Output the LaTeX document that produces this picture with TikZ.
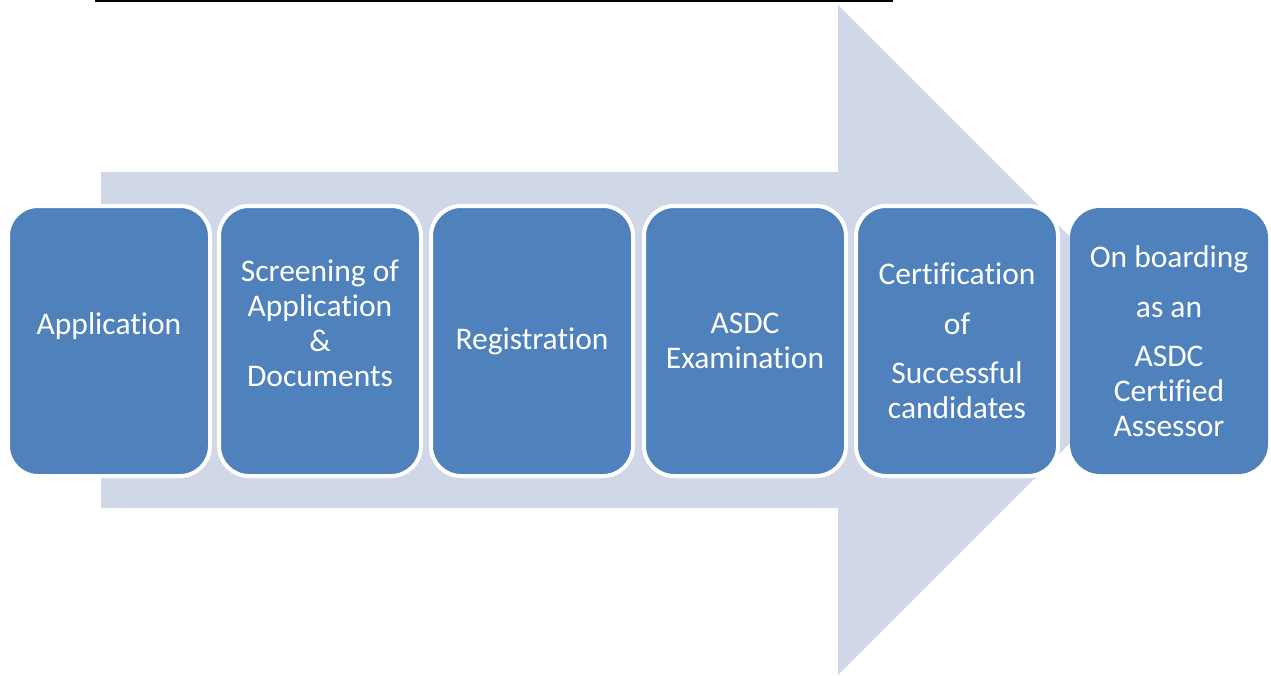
\documentclass[tikz,border=0pt]{standalone}
\usepackage{fontspec}
\setmainfont[Ligatures=NoCommon]{Carlito}
\definecolor{boxblue}{HTML}{4F81BD}
\definecolor{arrowgrey}{HTML}{D0D8E8}
\begin{document}
\begin{tikzpicture}[x=1pt,y=-1pt,
  stepbox/.style={rectangle, rounded corners=30pt, fill=boxblue, draw=white,
    line width=4pt, minimum width=202pt, minimum height=270pt, inner sep=0pt,
    text=white, align=center, font=\fontsize{31.5}{35}\selectfont},
  bigarrow/.style={fill=arrowgrey, draw=none}]
\useasboundingbox (0,0) rectangle (1271,675);
% top rule
\coordinate (r1) at (95,1);
\coordinate (r2) at (893,1);
\draw[line width=2pt] (r1) -- (r2);
% background arrow
\fill[bigarrow] (101,172) -- (838,172) -- (838,5) -- (1173,340) -- (838,675) -- (838,508) -- (101,508) -- cycle;
% boxes
\node[stepbox] (b1) at (109,341) {Application\\\mbox{}};
\node[stepbox] (b2) at (320,341) {Screening of\\Application\\\&\\Documents\\\mbox{}};
\node[stepbox] (b3) at (532,341) {Registration};
\node[stepbox] (b4) at (745,341) {ASDC\\Examination};
\node[stepbox] (b5) at (957,341) {Certification\\[15pt]of\\[14pt]Successful\\candidates};
\node[stepbox, draw=none, minimum width=198pt, minimum height=266pt] (b6) at (1169,341) {On boarding\\[15pt]as an\\[14pt]ASDC\\Certified\\Assessor};
\end{tikzpicture}
\end{document}
